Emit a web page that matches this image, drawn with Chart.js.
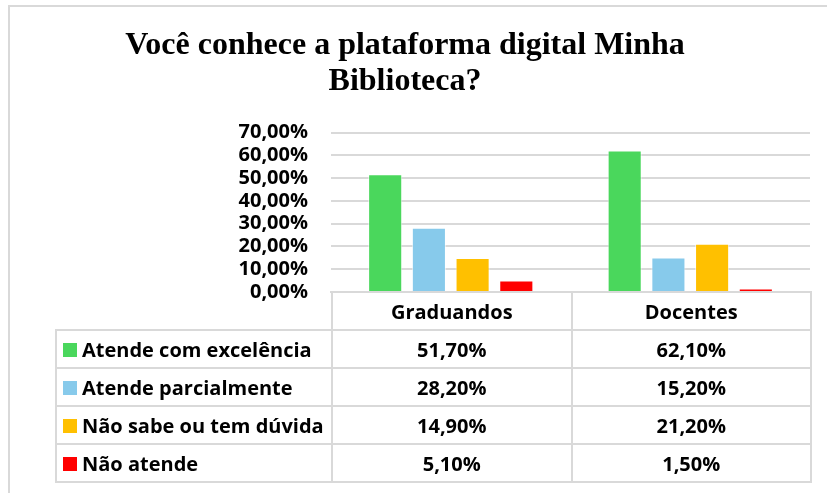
<!DOCTYPE html>
<html>
<head>
<meta charset="utf-8">
<script src="https://cdn.jsdelivr.net/npm/chart.js@4.4.1/dist/chart.umd.min.js"></script>
<style>
  html, body { margin: 0; padding: 0; background: #fff; }
  #wrap { position: relative; width: 827px; height: 493px; overflow: hidden; }
  #frame { position: absolute; left: 8px; top: 5px; width: 900px; height: 600px;
           border-left: 2px solid #d9d9d9; border-top: 2px solid #d9d9d9; box-sizing: border-box; }
  canvas { position: absolute; left: 0; top: 0; }
  #tbl { position: absolute; border-collapse: collapse; font-family: "Open Sans", "Noto Sans", sans-serif;
         font-weight: 700; font-size: 20px; color: #000; }
  #tbl td { border: 2px solid #d9d9d9; height: 36px; padding: 0; text-align: center; white-space: nowrap; }
  #tbl td.lab { text-align: left; padding-left: 6px; }
  #tbl td.blank { border: none; }
  .sw { display: inline-block; width: 14px; height: 14px; margin-right: 5px; vertical-align: 0px; }
</style>
</head>
<body>
<div id="wrap">
  <div id="frame"></div>
  <canvas id="c" width="827" height="493"></canvas>
  <table id="tbl"></table>
</div>
<script>
const titleLines = ["Você conhece a plataforma digital Minha", "Biblioteca?"];
const categories = ["Graduandos", "Docentes"];
const seriesNames = ["Atende com excelência", "Atende parcialmente", "Não sabe ou tem dúvida", "Não atende"];
const excelencia = [51.7, 62.1];
const parcialmente = [28.2, 15.2];
const naoSabe = [14.9, 21.2];
const naoAtende = [5.1, 1.5];
const seriesColors = ["#4AD75C", "#87CAEB", "#FFC000", "#FF0000"];
const yTicks = [0, 10, 20, 30, 40, 50, 60, 70];

const seriesValues = [excelencia, parcialmente, naoSabe, naoAtende];
const fmt = v => v.toFixed(2).replace('.', ',') + '%';

const datasets = seriesNames.map((n, i) => ({
  label: n,
  data: seriesValues[i],
  backgroundColor: seriesColors[i],
  borderColor: 'rgba(255,255,255,0.6)',
  borderWidth: 1,
  categoryPercentage: 0.73,
  barPercentage: 0.78
}));

const chart = new Chart(document.getElementById('c'), {
  type: 'bar',
  data: { labels: categories, datasets },
  options: {
    responsive: false,
    animation: false,
    devicePixelRatio: 1,
    layout: { padding: { left: 0, right: 17, top: 0, bottom: 201 } },
    plugins: {
      legend: { display: false },
      tooltip: { enabled: false },
      title: {
        display: true,
        text: titleLines,
        color: '#000',
        font: { family: '"Liberation Serif", "Times New Roman", serif', size: 32, weight: 'bold', lineHeight: 1.15 },
        padding: { top: 27, bottom: 32 }
      }
    },
    scales: {
      x: {
        grid: { display: false, drawTicks: false },
        border: { display: true, color: '#d9d9d9', width: 2 },
        ticks: { display: false }
      },
      y: {
        min: 0, max: 70,
        afterBuildTicks: s => { s.ticks = yTicks.map(v => ({ value: v })); },
        afterFit: s => { s.width = 331; },
        grid: { color: '#d9d9d9', lineWidth: 2, drawTicks: false },
        border: { display: false },
        ticks: {
          autoSkip: false,
          padding: 23,
          color: '#000',
          font: { family: '"Open Sans", "Noto Sans", sans-serif', size: 20, weight: 'bold' },
          callback: v => fmt(v)
        }
      }
    }
  }
});

// Build data table aligned with the category axis
const area = chart.chartArea;
const tbl = document.getElementById('tbl');
const tableLeft = 55;
const colW = (area.right - area.left) / categories.length;
tbl.style.left = tableLeft + 'px';
tbl.style.top = (area.bottom - 1) + 'px';
let html = '<colgroup><col style="width:' + (area.left - tableLeft) + 'px">';
categories.forEach(() => { html += '<col style="width:' + colW + 'px">'; });
html += '</colgroup>';
html += '<tr><td class="blank"></td>' + categories.map(c => '<td>' + c + '</td>').join('') + '</tr>';
seriesNames.forEach((n, i) => {
  html += '<tr><td class="lab"><span class="sw" style="background:' + seriesColors[i] + '"></span>' + n + '</td>' +
    seriesValues[i].map(v => '<td>' + fmt(v) + '</td>').join('') + '</tr>';
});
tbl.innerHTML = html;
tbl.style.width = (area.right - tableLeft) + 'px';
tbl.style.tableLayout = 'fixed';
</script>
</body>
</html>
